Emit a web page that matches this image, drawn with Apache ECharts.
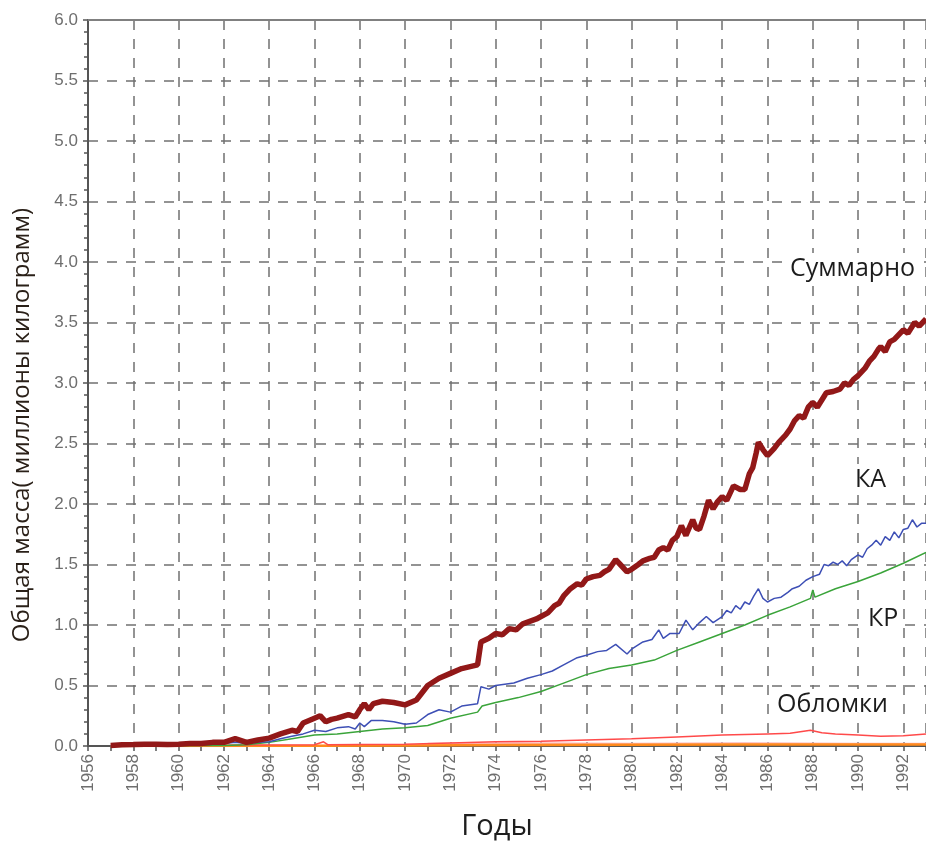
<!DOCTYPE html>
<html>
<head>
<meta charset="utf-8">
<script src="https://cdn.jsdelivr.net/npm/echarts@6/dist/echarts.min.js"></script>
<style>
  html, body { margin: 0; padding: 0; background: #fff; }
  #chart { width: 926px; height: 846px; }
</style>
</head>
<body>
<div id="chart"></div>
<script>
// Accumulated mass in orbit, millions of kilograms, as [year, value]
const totalMass = [
  [1957.0, 0.005], [1957.5, 0.01], [1958.0, 0.012], [1958.5, 0.015], [1959.0, 0.015],
  [1959.5, 0.012], [1960.0, 0.015], [1960.5, 0.02], [1961.0, 0.02], [1961.5, 0.03],
  [1962.0, 0.03], [1962.5, 0.06], [1963.0, 0.03], [1963.5, 0.05], [1964.0, 0.065],
  [1964.5, 0.10], [1965.0, 0.13], [1965.25, 0.12], [1965.5, 0.19], [1966.0, 0.23],
  [1966.25, 0.25], [1966.5, 0.20], [1966.75, 0.22], [1967.0, 0.23], [1967.5, 0.26],
  [1967.8, 0.24], [1968.0, 0.30], [1968.2, 0.35], [1968.4, 0.30], [1968.6, 0.35],
  [1969.0, 0.37], [1969.5, 0.36], [1970.0, 0.34], [1970.5, 0.38], [1971.0, 0.50],
  [1971.5, 0.56], [1972.0, 0.60], [1972.5, 0.64], [1973.2, 0.67], [1973.35, 0.86],
  [1973.7, 0.89], [1974.0, 0.93], [1974.3, 0.92], [1974.6, 0.97], [1974.9, 0.96],
  [1975.2, 1.01], [1975.5, 1.03], [1975.8, 1.05], [1976.0, 1.07], [1976.3, 1.10],
  [1976.6, 1.16], [1976.8, 1.18], [1977.0, 1.24], [1977.3, 1.30], [1977.6, 1.34],
  [1977.8, 1.33], [1978.0, 1.38], [1978.3, 1.40], [1978.6, 1.41], [1978.8, 1.44],
  [1979.0, 1.46], [1979.3, 1.54], [1979.5, 1.50], [1979.8, 1.44], [1980.0, 1.46],
  [1980.3, 1.50], [1980.5, 1.53], [1980.8, 1.55], [1981.0, 1.56], [1981.2, 1.62],
  [1981.4, 1.64], [1981.6, 1.62], [1981.8, 1.70], [1982.0, 1.73], [1982.2, 1.82],
  [1982.4, 1.74], [1982.7, 1.87], [1982.85, 1.80], [1983.0, 1.79], [1983.2, 1.90],
  [1983.4, 2.03], [1983.6, 1.96], [1983.8, 2.02], [1984.0, 2.06], [1984.2, 2.03],
  [1984.5, 2.15], [1984.8, 2.12], [1985.0, 2.12], [1985.2, 2.25], [1985.35, 2.30],
  [1985.5, 2.42], [1985.6, 2.51], [1985.8, 2.45], [1986.0, 2.40], [1986.3, 2.46],
  [1986.5, 2.51], [1986.8, 2.57], [1987.0, 2.62], [1987.2, 2.69], [1987.4, 2.73],
  [1987.6, 2.71], [1987.8, 2.80], [1988.0, 2.84], [1988.2, 2.80], [1988.4, 2.86],
  [1988.6, 2.92], [1988.9, 2.93], [1989.2, 2.95], [1989.4, 3.00], [1989.6, 2.98],
  [1989.8, 3.03], [1990.0, 3.06], [1990.3, 3.12], [1990.5, 3.18], [1990.7, 3.22],
  [1990.9, 3.28], [1991.0, 3.30], [1991.2, 3.26], [1991.4, 3.34], [1991.6, 3.36],
  [1991.8, 3.40], [1992.0, 3.44], [1992.2, 3.41], [1992.5, 3.50], [1992.7, 3.47],
  [1993.0, 3.53]
];

// Spacecraft (КА)
const spacecraftMass = [
  [1957.0, 0.003], [1958.0, 0.008], [1959.0, 0.01], [1960.0, 0.01], [1961.0, 0.012],
  [1962.0, 0.02], [1962.5, 0.03], [1963.0, 0.02], [1963.5, 0.03], [1964.0, 0.035],
  [1964.5, 0.06], [1965.0, 0.08], [1965.5, 0.10], [1966.0, 0.13], [1966.5, 0.12],
  [1967.0, 0.15], [1967.5, 0.16], [1967.8, 0.14], [1968.0, 0.19], [1968.2, 0.16],
  [1968.5, 0.21], [1969.0, 0.21], [1969.5, 0.20], [1970.0, 0.18], [1970.5, 0.19],
  [1971.0, 0.26], [1971.5, 0.30], [1972.0, 0.28], [1972.5, 0.33], [1973.2, 0.35],
  [1973.35, 0.49], [1973.7, 0.47], [1974.0, 0.50], [1974.8, 0.52], [1975.4, 0.56],
  [1976.0, 0.59], [1976.5, 0.62], [1977.0, 0.67], [1977.6, 0.73], [1978.0, 0.75],
  [1978.5, 0.78], [1978.9, 0.79], [1979.3, 0.84], [1979.8, 0.76], [1980.0, 0.80],
  [1980.5, 0.86], [1980.9, 0.88], [1981.2, 0.96], [1981.4, 0.89], [1981.7, 0.93],
  [1982.1, 0.93], [1982.4, 1.04], [1982.7, 0.96], [1983.0, 1.02], [1983.3, 1.07],
  [1983.6, 1.02], [1984.0, 1.07], [1984.2, 1.12], [1984.4, 1.10], [1984.6, 1.16],
  [1984.8, 1.13], [1985.0, 1.19], [1985.2, 1.17], [1985.4, 1.24], [1985.6, 1.30],
  [1985.8, 1.22], [1986.0, 1.19], [1986.3, 1.22], [1986.6, 1.23], [1986.9, 1.27],
  [1987.1, 1.30], [1987.4, 1.32], [1987.7, 1.37], [1988.0, 1.40], [1988.3, 1.42],
  [1988.5, 1.50], [1988.7, 1.49], [1988.9, 1.52], [1989.1, 1.50], [1989.3, 1.53],
  [1989.5, 1.49], [1989.7, 1.54], [1990.0, 1.58], [1990.2, 1.56], [1990.4, 1.63],
  [1990.6, 1.66], [1990.8, 1.70], [1991.0, 1.66], [1991.2, 1.73], [1991.4, 1.70],
  [1991.6, 1.77], [1991.8, 1.72], [1992.0, 1.79], [1992.2, 1.80], [1992.4, 1.87],
  [1992.6, 1.81], [1992.8, 1.84], [1993.0, 1.84]
];

// Rocket bodies (КР)
const rocketBodyMass = [
  [1957.0, 0.0], [1960.0, 0.002], [1962.0, 0.005], [1963.0, 0.01], [1964.0, 0.03],
  [1965.0, 0.06], [1966.0, 0.09], [1967.0, 0.10], [1968.0, 0.12], [1969.0, 0.14],
  [1970.0, 0.15], [1971.0, 0.17], [1972.0, 0.23], [1973.2, 0.28], [1973.4, 0.33],
  [1974.0, 0.36], [1975.0, 0.40], [1976.0, 0.45], [1977.0, 0.52], [1978.0, 0.59],
  [1979.0, 0.64], [1980.0, 0.67], [1981.0, 0.71], [1982.0, 0.79], [1983.0, 0.86],
  [1984.0, 0.93], [1985.0, 1.00], [1986.0, 1.08], [1987.0, 1.15], [1987.9, 1.22],
  [1988.0, 1.29], [1988.1, 1.23], [1989.0, 1.30], [1990.0, 1.36], [1991.0, 1.43],
  [1992.0, 1.51], [1993.0, 1.60]
];

// Fragmentation debris (Обломки)
const debrisMass = [
  [1957.0, 0.003], [1960.0, 0.005], [1963.0, 0.008], [1966.0, 0.01], [1966.4, 0.035],
  [1966.6, 0.01], [1968.0, 0.012], [1970.0, 0.015], [1972.0, 0.025], [1974.0, 0.035],
  [1976.0, 0.04], [1978.0, 0.05], [1980.0, 0.06], [1982.0, 0.075], [1984.0, 0.09],
  [1986.0, 0.10], [1987.0, 0.105], [1987.9, 0.13], [1988.4, 0.11], [1989.0, 0.10],
  [1990.0, 0.09], [1991.0, 0.08], [1992.0, 0.085], [1993.0, 0.10]
];

// Mission-related objects, close to zero
const missionMass = [
  [1957.0, 0.0], [1966.0, 0.002], [1970.0, 0.004], [1975.0, 0.008], [1980.0, 0.01],
  [1985.0, 0.012], [1990.0, 0.012], [1993.0, 0.012]
];
const otherMass = [
  [1971.0, 0.02], [1975.0, 0.025], [1980.0, 0.02], [1985.0, 0.025], [1990.0, 0.02], [1993.0, 0.02]
];

const yearMin = 1956, yearMax = 1993, yearStep = 2;
const massMin = 0, massMax = 6, massStep = 0.5;

const yTitle = 'Общая масса( миллионы килограмм)';
const xTitle = 'Годы';
const seriesLabels = [
  { text: 'Суммарно', x: 786, y: 271 },
  { text: 'КА', x: 851, y: 482 },
  { text: 'КР', x: 864, y: 621 },
  { text: 'Обломки', x: 773, y: 707 }
];

const chart = echarts.init(document.getElementById('chart'), null, { renderer: 'canvas' });

const gridLine = { show: true, lineStyle: { color: '#707070', width: 1.5, type: [10, 9] } };
const tickFont = { fontFamily: 'Liberation Sans, Arial, sans-serif', fontSize: 17, color: '#6e6e6e' };

function line(data, color, width, z) {
  return {
    type: 'line', data: data, showSymbol: false, symbol: 'none',
    lineStyle: { color: color, width: width }, z: z, silent: true, animation: false
  };
}

chart.setOption({
  animation: false,
  grid: { left: 88, right: 0, top: 20, bottom: 100, containLabel: false },
  xAxis: [
    {
      type: 'value', min: yearMin, max: yearMax, interval: yearStep,
      name: xTitle, nameLocation: 'middle', nameGap: 66,
      nameTextStyle: { fontFamily: 'Open Sans, sans-serif', fontSize: 29, color: '#1e1e1e',
        padding: [0, 20, 0, 0] },
      axisLine: { show: true, onZero: false, lineStyle: { color: '#555', width: 2 } },
      axisTick: { show: true, length: 5, lineStyle: { color: '#555', width: 1.5 } },
      axisLabel: Object.assign({ rotate: 90, margin: 8, showMaxLabel: false,
        formatter: v => String(v) }, tickFont),
      splitLine: gridLine
    },
    {
      type: 'value', min: yearMin, max: yearMax, interval: 1, position: 'bottom',
      axisLine: { show: false }, axisLabel: { show: false }, splitLine: { show: false },
      axisTick: { show: true, length: 5, lineStyle: { color: '#555', width: 1.5 } }
    },
    {
      type: 'value', min: yearMin, max: yearMax, position: 'top',
      axisLine: { show: true, lineStyle: { color: '#808080', width: 2 } },
      axisTick: { show: false }, axisLabel: { show: false }, splitLine: { show: false }
    }
  ],
  yAxis: {
    type: 'value', min: massMin, max: massMax, interval: massStep,
    axisLine: { show: true, lineStyle: { color: '#555', width: 2 } },
    axisTick: { show: true, length: 5, lineStyle: { color: '#555', width: 1.5 } },
    minorTick: { show: true, splitNumber: 5, length: 4, lineStyle: { color: '#555', width: 1.5 } },
    axisLabel: Object.assign({ margin: 10, formatter: v => v.toFixed(1) }, tickFont),
    splitLine: gridLine
  },
  series: [
    line(otherMass, '#ffb3b3', 1.5, 2),
    line(missionMass, '#ff8a1c', 2.5, 3),
    line(debrisMass, '#ff4a4a', 1.5, 4),
    line(rocketBodyMass, '#3aa43a', 1.5, 5),
    line(spacecraftMass, '#3d4fb5', 1.5, 6),
    line(totalMass, '#921818', 5.5, 7)
  ],
  graphic: [
    {
      type: 'text', x: 22, y: 425, rotation: Math.PI / 2, z: 100,
      style: {
        text: yTitle, fill: '#2a2018', align: 'center', verticalAlign: 'middle',
        font: '24px "Open Sans", sans-serif'
      }
    }
  ].concat(seriesLabels.map(l => ({
    type: 'text', left: l.x, top: l.y - 18, z: 100,
    style: {
      text: l.text, fill: '#1c1c1c', backgroundColor: '#fff', padding: [3, 4],
      font: '25px "Open Sans", sans-serif'
    }
  })))
});
</script>
</body>
</html>
